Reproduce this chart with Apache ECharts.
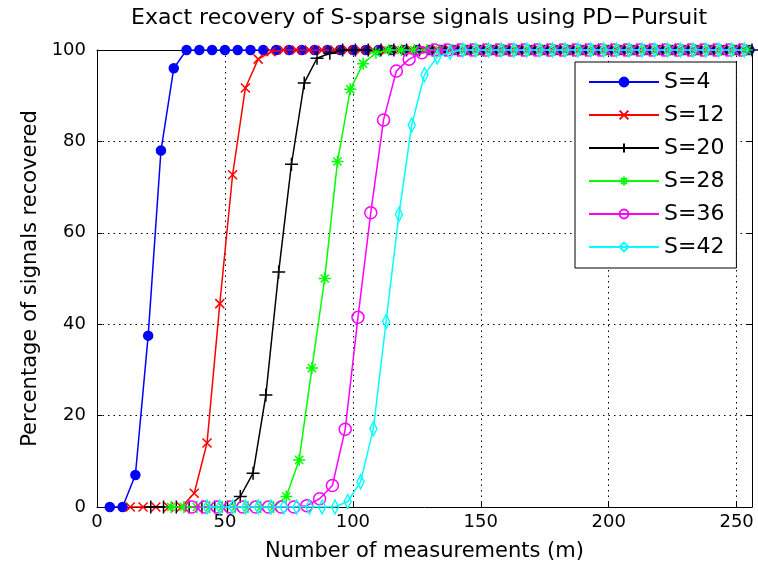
<!DOCTYPE html>
<html>
<head>
<meta charset="utf-8">
<script src="https://cdn.jsdelivr.net/npm/echarts@6/dist/echarts.min.js"></script>
<style>
  html, body { margin: 0; padding: 0; background: #fff; }
  #chart { width: 758px; height: 570px; }
</style>
</head>
<body>
<div id="chart"></div>
<script>
var mS4 = [5,10,15,20,25,30,35,40,45,50,55,60,65,70,75,80,85,90,95,100,105,110,115,120,125,130,135,140,145,150,155,160,165,170,175,180,185,190,195,200,205,210,215,220,225,230,235,240,245,250,255];
var pS4 = [0,0,7,37.5,78,96,100,100,100,100,100,100,100,100,100,100,100,100,100,100,100,100,100,100,100,100,100,100,100,100,100,100,100,100,100,100,100,100,100,100,100,100,100,100,100,100,100,100,100,100,100];

var mS12 = [13,18,23,28,33,38,43,48,53,58,63,68,73,78,83,88,93,98,103,108,113,118,123,128,133,138,143,148,153,158,163,168,173,178,183,188,193,198,203,208,213,218,223,228,233,238,243,248,253];
var pS12 = [0,0,0,0,0,3,14,44.5,72.7,91.7,98,99.6,100,100,100,100,100,100,100,100,100,100,100,100,100,100,100,100,100,100,100,100,100,100,100,100,100,100,100,100,100,100,100,100,100,100,100,100,100];

var mS20 = [21,26,31,36,41,46,51,56,61,66,71,76,81,86,91,96,101,106,111,116,121,126,131,136,141,146,151,156,161,166,171,176,181,186,191,196,201,206,211,216,221,226,231,236,241,246,251,256];
var pS20 = [0,0,0,0,0,0,0,2.3,7.4,24.5,51.4,75,92.8,98.2,99.3,100,100,100,100,100,100,100,100,100,100,100,100,100,100,100,100,100,100,100,100,100,100,100,100,100,100,100,100,100,100,100,100,100];

var mS28 = [29,34,39,44,49,54,59,64,69,74,79,84,89,94,99,104,109,114,119,124,129,134,139,144,149,154,159,164,169,174,179,184,189,194,199,204,209,214,219,224,229,234,239,244,249,254];
var pS28 = [0,0,0,0,0,0,0,0,0,2.3,10.3,30.4,50,75.6,91.4,97,99.4,100,100,100,100,100,100,100,100,100,100,100,100,100,100,100,100,100,100,100,100,100,100,100,100,100,100,100,100,100];

var mS36 = [37,42,47,52,57,62,67,72,77,82,87,92,97,102,107,112,117,122,127,132,137,142,147,152,157,162,167,172,177,182,187,192,197,202,207,212,217,222,227,232,237,242,247,252];
var pS36 = [0,0,0,0,0,0,0,0,0,0.3,1.8,4.7,17,41.5,64.4,84.7,95.4,98,99.4,100,100,100,100,100,100,100,100,100,100,100,100,100,100,100,100,100,100,100,100,100,100,100,100,100];

var mS42 = [43,48,53,58,63,68,73,78,83,88,93,98,103,108,113,118,123,128,133,138,143,148,153,158,163,168,173,178,183,188,193,198,203,208,213,218,223,228,233,238,243,248,253];
var pS42 = [0,0,0,0,0,0,0,0,0,0,0,1.2,5.5,17.1,40.6,64,83.6,94.6,98.5,99.5,100,100,100,100,100,100,100,100,100,100,100,100,100,100,100,100,100,100,100,100,100,100,100];

var seriesNames = ['S=4', 'S=12', 'S=20', 'S=28', 'S=36', 'S=42'];
var xTicks = [0, 50, 100, 150, 200, 250];
var yTicks = [0, 20, 40, 60, 80, 100];

function pairs(ms, ps) {
  return ms.map(function(m, i) { return [m, ps[i]]; });
}

var FONT = '"DejaVu Sans", "Liberation Sans", Arial, sans-serif';
var CLEAR = 'rgba(0,0,0,0)';

var styles = [
  { color: '#0000ff', symbol: 'circle', size: 9, fill: '#0000ff' },
  { color: '#ff0000', symbol: 'path://M0,0L10,10M10,0L0,10', size: 9, fill: CLEAR },
  { color: '#000000', symbol: 'path://M5,0L5,10M0,5L10,5', size: 13, fill: CLEAR },
  { color: '#00ff00', symbol: 'path://M5,0L5,10M0,5L10,5M1.6,1.6L8.4,8.4M8.4,1.6L1.6,8.4', size: 12, fill: CLEAR },
  { color: '#ff00ff', symbol: 'circle', size: 12, fill: CLEAR },
  { color: '#00ffff', symbol: 'path://M5,0L10,7L5,14L0,7Z', size: [10, 14], fill: CLEAR }
];

var dataSets = [pairs(mS4, pS4), pairs(mS12, pS12), pairs(mS20, pS20),
                pairs(mS28, pS28), pairs(mS36, pS36), pairs(mS42, pS42)];

var series = seriesNames.map(function(name, i) {
  var s = styles[i];
  return {
    name: name,
    type: 'line',
    data: dataSets[i],
    xAxisIndex: 0,
    yAxisIndex: 0,
    symbol: s.symbol,
    symbolSize: s.size,
    symbolKeepAspect: true,
    showAllSymbol: true,
    lineStyle: { color: s.color, width: 1.5 },
    itemStyle: { color: s.fill, borderColor: s.color, borderWidth: 1.5 },
    emphasis: { disabled: true },
    z: 2 + i
  };
});

var chart = echarts.init(document.getElementById('chart'), null, { renderer: 'canvas' });
chart.setOption({
  animation: false,
  backgroundColor: '#fff',
  textStyle: { fontFamily: FONT },
  title: {
    text: 'Exact recovery of S-sparse signals using PD\u2212Pursuit',
    left: 414,
    top: 2,
    textAlign: 'center',
    textStyle: { fontFamily: FONT, fontSize: 22, fontWeight: 'normal', color: '#000' }
  },
  grid: { left: 97, right: 6, top: 50, bottom: 63, containLabel: false },
  legend: {
    data: seriesNames,
    orient: 'vertical',
    left: 575,
    top: 62,
    padding: [9, 12, 10, 13],
    itemWidth: 70,
    itemHeight: 11,
    itemGap: 11,
    backgroundColor: '#fff',
    borderColor: '#000',
    borderWidth: 1,
    textStyle: { fontFamily: FONT, fontSize: 22, color: '#000', lineHeight: 20 }
  },
  xAxis: [{
    type: 'value',
    min: 0, max: 256, interval: 50,
    name: 'Number of measurements (m)',
    nameLocation: 'middle',
    nameGap: 34,
    nameTextStyle: { fontFamily: FONT, fontSize: 21, color: '#000' },
    axisLine: { onZero: false, lineStyle: { color: '#000', width: 1 } },
    axisTick: { inside: true, length: 5, lineStyle: { color: '#000' } },
    axisLabel: { color: '#000', fontSize: 18, fontFamily: FONT, margin: 6, showMaxLabel: false,
      formatter: function(v) { return xTicks.indexOf(v) >= 0 ? String(v) : ''; } },
    splitLine: { show: true, lineStyle: { color: '#000', type: [1.5, 4], width: 1 } }
  }, {
    type: 'value',
    position: 'top',
    min: 0, max: 256, interval: 50,
    axisLine: { onZero: false, lineStyle: { color: '#000', width: 1 } },
    axisTick: { inside: true, length: 5, lineStyle: { color: '#000' } },
    axisLabel: { show: false },
    splitLine: { show: false }
  }],
  yAxis: [{
    type: 'value',
    min: 0, max: 100, interval: 20,
    name: 'Percentage of signals recovered',
    nameLocation: 'middle',
    nameGap: 56,
    nameTextStyle: { fontFamily: FONT, fontSize: 21, color: '#000' },
    axisLine: { show: true, onZero: false, lineStyle: { color: '#000', width: 1 } },
    axisTick: { show: true, inside: true, length: 5, lineStyle: { color: '#000' } },
    axisLabel: { color: '#000', fontSize: 18, fontFamily: FONT, margin: 11,
      formatter: function(v) { return yTicks.indexOf(v) >= 0 ? String(v) : ''; } },
    splitLine: { show: true, lineStyle: { color: '#000', type: [1.5, 4], width: 1 } }
  }, {
    type: 'value',
    position: 'right',
    min: 0, max: 100, interval: 20,
    axisLine: { show: true, onZero: false, lineStyle: { color: '#000', width: 1 } },
    axisTick: { show: true, inside: true, length: 5, lineStyle: { color: '#000' } },
    axisLabel: { show: false },
    splitLine: { show: false }
  }],
  series: series
});
</script>
</body>
</html>
